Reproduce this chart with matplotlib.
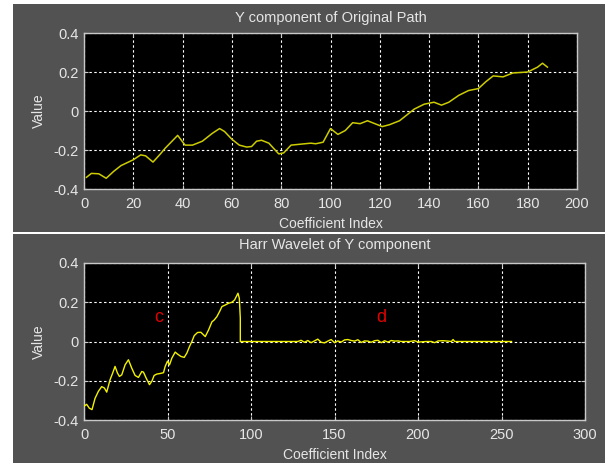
import matplotlib
matplotlib.use("Agg")
import matplotlib.pyplot as plt
from matplotlib.patches import Rectangle

# ---- data ----
top_x = [1, 3, 6, 9, 12, 15, 20, 23, 25, 28, 31, 33, 38, 41, 44, 48, 52, 55, 57, 60,
         63, 66, 68, 70, 72, 75, 79, 81, 84, 88, 92, 94, 97, 100, 103, 106, 109, 112,
         115, 118, 121, 124, 128, 131, 134, 138, 142, 145, 148, 152, 156, 160, 163,
         166, 170, 174, 180, 184, 186, 188]
top_y = [-0.34, -0.32, -0.322, -0.345, -0.31, -0.28, -0.25, -0.225, -0.23, -0.262,
         -0.22, -0.19, -0.125, -0.175, -0.175, -0.155, -0.115, -0.09, -0.105, -0.145,
         -0.175, -0.185, -0.182, -0.155, -0.15, -0.165, -0.22, -0.215, -0.175, -0.17,
         -0.165, -0.168, -0.16, -0.09, -0.12, -0.1, -0.06, -0.065, -0.05, -0.065,
         -0.08, -0.07, -0.05, -0.02, 0.01, 0.035, 0.045, 0.03, 0.045, 0.08, 0.105,
         0.115, 0.15, 0.18, 0.175, 0.195, 0.2, 0.225, 0.245, 0.225]

c_x = [0, 1.6, 3.2, 4.8, 6.6, 8.6, 10.6, 12.2, 13.6, 15.6, 17.2, 18.6, 20, 21.2, 22.6,
       24.6, 26.6, 28.6, 30.6, 32.6, 34.6, 35.6, 37.2, 39.2, 40.6, 42, 43.6, 45.6,
       47.6, 48.6, 50, 51.2, 52.6, 54.6, 56, 58, 60, 61.6, 63.2, 64.6, 66, 68, 70,
       72.6, 74.6, 76.6, 78, 79.6, 81.2, 82.6, 84.6, 86.6, 88.6, 90.2, 92.2, 93,
       93.6, 93.6]
c_y = [-0.33, -0.32, -0.34, -0.347, -0.29, -0.254, -0.23, -0.237, -0.258, -0.195,
       -0.16, -0.127, -0.16, -0.178, -0.17, -0.119, -0.093, -0.136, -0.173, -0.183,
       -0.153, -0.156, -0.186, -0.22, -0.203, -0.173, -0.166, -0.163, -0.159, -0.127,
       -0.10, -0.119, -0.085, -0.054, -0.064, -0.076, -0.081, -0.059, -0.025, 0.0,
       0.03, 0.046, 0.047, 0.025, 0.059, 0.10, 0.11, 0.127, 0.153, 0.178, 0.186,
       0.195, 0.20, 0.212, 0.246, 0.22, 0.119, 0.0]

d_x = [94, 128, 130, 132, 134, 136, 138, 140, 142, 144, 146, 148, 150, 152, 154, 156,
       158, 160, 162, 164, 166, 168, 170, 172, 174, 176, 178, 180, 182, 184, 186, 188,
       190, 195, 198, 200, 205, 208, 210, 212, 215, 218, 220, 221, 222, 256]
d_y = [0, 0, 0.006, -0.004, 0.005, -0.006, 0.003, 0.012, -0.004, -0.007, 0.002, 0.01,
       -0.006, 0.003, -0.003, 0.008, 0.01, 0.005, 0.002, 0.009, -0.005, 0.003, 0.002,
       -0.004, 0.004, 0.006, -0.006, 0.004, -0.003, 0.005, 0.002, 0.003, 0, 0, 0.004,
       -0.003, 0, 0, -0.006, 0.003, 0.004, 0.002, 0, 0.01, 0, 0]

top_xticks = [0, 20, 40, 60, 80, 100, 120, 140, 160, 180, 200]
bot_xticks = [0, 50, 100, 150, 200, 250, 300]
yticks = [-0.4, -0.2, 0, 0.2, 0.4]
ytick_labels = ["-0.4", "-0.2", "0", "0.2", "0.4"]

titles = ["Y component of Original Path", "Harr Wavelet of Y component"]
xlabel = "Coefficient Index"
ylabel = "Value"

# ---- style ----
FONT = ["Liberation Sans Narrow", "DejaVu Sans Condensed", "Liberation Sans", "DejaVu Sans"]
plt.rcParams["font.family"] = FONT
W, H = 612, 463
PANEL = "#525252"
TXT = "#e6e6e6"

fig = plt.figure(figsize=(W / 100, H / 100), dpi=100, facecolor="white")

def fr(x0, y0, x1, y1):
    # pixel box (top-left origin) -> figure fraction [l, b, w, h]
    return [x0 / W, 1 - y1 / H, (x1 - x0) / W, (y1 - y0) / H]

for (x0, y0, x1, y1) in [(13, 4, 605, 232), (13, 234, 605, 463)]:
    l, b, w, h = fr(x0, y0, x1, y1)
    fig.patches.append(Rectangle((l, b), w, h, transform=fig.transFigure,
                                 facecolor=PANEL, edgecolor="none", zorder=-10))

ax1 = fig.add_axes(fr(84, 33, 577, 189))
ax2 = fig.add_axes(fr(84, 263, 585, 420))

def style(ax, xt, xlim, title, tpad):
    ax.set_facecolor("black")
    ax.set_xlim(*xlim)
    ax.set_ylim(-0.4, 0.4)
    ax.set_xticks(xt)
    ax.set_xticklabels([str(v) for v in xt])
    ax.set_yticks(yticks)
    ax.set_yticklabels(ytick_labels)
    ax.grid(True, color="white", linestyle=(0, (2.2, 2.2)), linewidth=0.8)
    ax.set_axisbelow(True)
    for s in ax.spines.values():
        s.set_color("#c8c8c8")
        s.set_linewidth(1.0)
    ax.tick_params(direction="in", length=3, color="#c8c8c8", labelcolor=TXT,
                   labelsize=10.5, top=True, right=True)
    ax.tick_params(axis="x", pad=6)
    ax.tick_params(axis="y", pad=4)
    ax.set_title(title, color=TXT, fontsize=10.5, pad=tpad)
    ax.set_xlabel(xlabel, color=TXT, fontsize=10, labelpad=4)
    ax.set_ylabel(ylabel, color=TXT, fontsize=10, labelpad=5)

style(ax1, top_xticks, (0, 200), titles[0], 8)
style(ax2, bot_xticks, (0, 300), titles[1], 10)

ax1.plot(top_x, top_y, color="#cccc00", linewidth=1.1, zorder=3)
ax2.plot(c_x, c_y, color="#f2f200", linewidth=1.0, zorder=3)
ax2.plot(d_x, d_y, color="#f2f200", linewidth=1.0, zorder=3)

ax2.text(45, 0.12, "c", color="#e00000", fontsize=13, ha="center", va="center")
ax2.text(178, 0.12, "d", color="#e00000", fontsize=13, ha="center", va="center")

fig.savefig("out.png", dpi=100, facecolor="white")
